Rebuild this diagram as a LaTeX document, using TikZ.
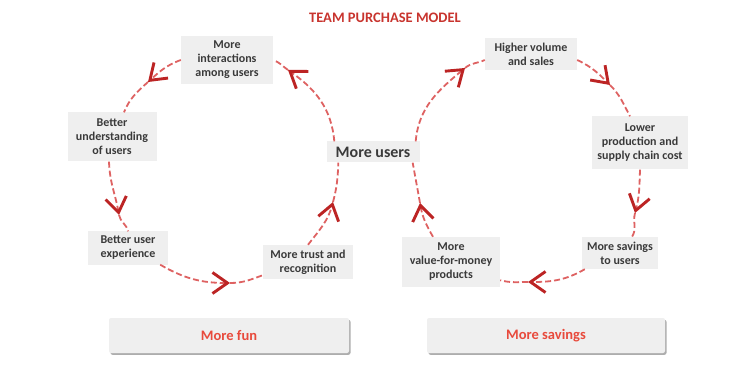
\documentclass[tikz,border=0pt]{standalone}
\usepackage{fontspec}
\setmainfont{Carlito}
\usepackage{tikz}
\usetikzlibrary{arrows.meta}
\usetikzlibrary{shadows}

\definecolor{boxgray}{RGB}{239,239,239}
\definecolor{labelgray}{RGB}{58,58,58}
\definecolor{titlered}{RGB}{200,52,46}
\definecolor{tabred}{RGB}{232,74,60}
\definecolor{loopred}{RGB}{222,98,98}
\definecolor{tipred}{RGB}{188,36,36}

\begin{document}
\begin{tikzpicture}[x=1pt,y=1pt,
  phase/.style={fill=boxgray,text=labelgray,align=center,inner sep=0pt,
    font=\bfseries\fontsize{12}{14}\selectfont},
  tab/.style={fill=boxgray,rounded corners=2pt,text=tabred,
    minimum height=35pt,font=\bfseries\fontsize{14.5}{17}\selectfont,
    drop shadow={shadow xshift=1.5pt,shadow yshift=-1.8pt,fill=gray!80,opacity=0.8}},
  cycleline/.style={draw=loopred,line width=1.8pt,dash pattern=on 6pt off 3pt},
  headed/.style={-{Straight Barb[length=15pt,width=21pt,line width=2.9pt,color=tipred]}}]
\useasboundingbox
  (0,0)
  rectangle
  (741,367);

% heading
\node[text=titlered,font=\bfseries\fontsize{14.5}{17}\selectfont]
  (title) at (385,349) {TEAM PURCHASE MODEL};

% the shared hub
\node[phase,minimum width=93pt,minimum height=21pt,
  font=\bfseries\fontsize{16}{18}\selectfont]
  (users) at (373,215) {More users};

% fun loop
\node[phase,minimum width=92pt,minimum height=48pt]
  (interact) at (227,307) {More\\interactions\\among users};
\node[phase,minimum width=89pt,minimum height=49pt]
  (underst) at (112,230) {Better\\understanding\\of users};
\node[phase,minimum width=80pt,minimum height=33pt]
  (uxp) at (128,119) {Better user\\experience};
\node[phase,minimum width=90pt,minimum height=34pt]
  (trust) at (308,105) {More trust and\\recognition};

% savings loop
\node[phase,minimum width=92pt,minimum height=32pt]
  (volume) at (531,313) {Higher volume\\and sales};
\node[phase,minimum width=96pt,minimum height=53pt]
  (lower) at (640,224) {Lower\\production and\\supply chain cost};
\node[phase,minimum width=76pt,minimum height=32pt]
  (savings) at (620,114) {More savings\\to users};
\node[phase,minimum width=98pt,minimum height=50pt]
  (value) at (451,105) {More\\value-for-money\\products};

% arrow heads sit here
\coordinate (t1) at (288,297);
\coordinate (t2) at (148,285);
\coordinate (t3) at (119,152);
\coordinate (t4) at (230,84);
\coordinate (t5) at (333,165);
\coordinate (t6) at (465,299);
\coordinate (t7) at (610,282);
\coordinate (t8) at (635,154);
\coordinate (t9) at (528,85);
\coordinate (t10) at (420,164);

% left circle, anticlockwise
\draw[cycleline,headed]
  ([xshift=8pt]users.north west)
  to[out=95,in=325]
  (t1);
\draw[cycleline]
  (t1)
  to[out=145,in=340]
  (interact.east);
\draw[cycleline,headed]
  (interact.west)
  to[out=200,in=42]
  (t2);
\draw[cycleline]
  (t2)
  to[out=222,in=68]
  ([xshift=12pt]underst.north);
\draw[cycleline,headed]
  ([xshift=-3pt]underst.south)
  to[out=272,in=100]
  (t3);
\draw[cycleline]
  (t3)
  to[out=280,in=100]
  (uxp.north);
\draw[cycleline,headed]
  ([xshift=-8pt]uxp.south east)
  to[out=-30,in=180]
  (t4);
\draw[cycleline]
  (t4)
  to[out=0,in=200]
  ([yshift=4pt]trust.south west);
\draw[cycleline,headed]
  (trust.north)
  to[out=52,in=255]
  (t5);
\draw[cycleline]
  (t5)
  to[out=75,in=268]
  ([xshift=12pt]users.south west);

% right circle, clockwise
\draw[cycleline,headed]
  ([xshift=-4pt]users.north east)
  to[out=85,in=220]
  (t6);
\draw[cycleline]
  (t6)
  to[out=40,in=205]
  ([yshift=-6pt]volume.west);
\draw[cycleline,headed]
  ([yshift=-6pt]volume.east)
  to[out=-25,in=135]
  (t7);
\draw[cycleline]
  (t7)
  to[out=-45,in=118]
  ([xshift=-10pt]lower.north);
\draw[cycleline,headed]
  (lower.south)
  to[out=-92,in=75]
  (t8);
\draw[cycleline]
  (t8)
  to[out=-105,in=57]
  ([xshift=12pt]savings.north);
\draw[cycleline,headed]
  ([xshift=3pt]savings.south west)
  to[out=210,in=0]
  (t9);
\draw[cycleline]
  (t9)
  to[out=180,in=-15]
  ([yshift=7pt]value.south east);
\draw[cycleline,headed]
  ([xshift=-18pt]value.north)
  to[out=120,in=280]
  (t10);
\draw[cycleline]
  (t10)
  to[out=100,in=280]
  ([xshift=-7pt]users.south east);

% tabs underneath
\node[tab,minimum width=240pt]
  (fun) at (229,31.5) {More fun};
\node[tab,minimum width=238pt]
  (saving) at (546,31.5) {More savings};
\end{tikzpicture}
\end{document}
